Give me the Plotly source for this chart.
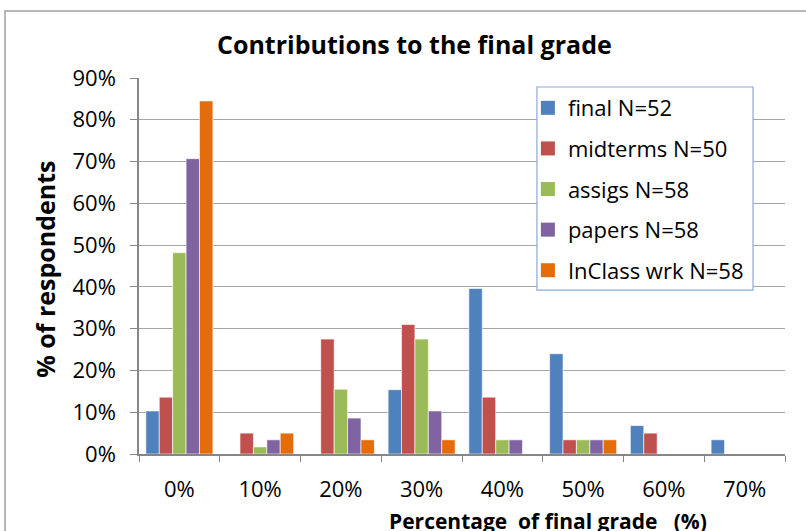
import plotly.graph_objects as go

categories = ["0%", "10%", "20%", "30%", "40%", "50%", "60%", "70%"]
series_names = ["final N=52", "midterms N=50", "assigs N=58", "papers N=58", "InClass wrk N=58"]
final_vals = [0.103, 0, 0, 0.154, 0.396, 0.240, 0.068, 0.034]
midterms_vals = [0.136, 0.050, 0.275, 0.310, 0.136, 0.034, 0.050, 0]
assigs_vals = [0.482, 0.017, 0.155, 0.275, 0.034, 0.034, 0, 0]
papers_vals = [0.707, 0.034, 0.086, 0.103, 0.034, 0.034, 0, 0]
inclass_vals = [0.845, 0.050, 0.034, 0.034, 0, 0.034, 0, 0]
colors = ["#4F81BD", "#C0504D", "#9BBB59", "#8064A2", "#E46C0A"]

FONT = "Open Sans, sans-serif"

fig = go.Figure()
for name, vals, col in zip(series_names,
                           [final_vals, midterms_vals, assigs_vals, papers_vals, inclass_vals],
                           colors):
    fig.add_trace(go.Bar(x=categories, y=vals, name=name, legendgroup=name, showlegend=False,
                         marker=dict(color=col, line=dict(color="rgba(255,255,255,0.6)", width=1))))
# legend entries with larger square swatches
for name, col in zip(series_names, colors):
    fig.add_trace(go.Scatter(x=[None], y=[None], mode="markers", name=name, legendgroup=name,
                             marker=dict(symbol="square", size=14, color=col), hoverinfo="skip"))

fig.update_layout(
    width=806, height=531,
    margin=dict(l=139, r=21, t=78, b=77),
    paper_bgcolor="white", plot_bgcolor="white",
    barmode="group", bargap=0.17, bargroupgap=0,
    font=dict(family=FONT, size=22, color="black"),
    showlegend=True,
    legend=dict(x=0.602, y=0.976, xanchor="left", yanchor="top",
                borderwidth=0, bgcolor="rgba(0,0,0,0)",
                font=dict(family=FONT, size=22), traceorder="grouped",
                tracegroupgap=9, itemwidth=30),
    xaxis=dict(type="category", showline=True, linecolor="#868686", linewidth=1.5,
               ticks="outside", tickson="boundaries", ticklen=6, tickcolor="#868686",
               tickfont=dict(family=FONT, size=22), showgrid=False, ticklabelstandoff=15),
    yaxis=dict(range=[0, 0.9], dtick=0.1, tickformat=".0%", showline=True,
               linecolor="#868686", linewidth=1.5, ticks="outside", ticklen=7,
               tickcolor="#868686", gridcolor="#A6A6A6", gridwidth=1.2,
               tickfont=dict(family=FONT, size=22), zeroline=False, ticklabelstandoff=10),
    annotations=[
        dict(text="<b>Contributions to the final grade</b>", xref="paper", yref="paper",
             x=0.427, y=1.09, xanchor="center", yanchor="middle", showarrow=False,
             font=dict(family=FONT, size=25)),
        dict(text="<b>% of respondents</b>", xref="paper", yref="paper",
             x=-0.1455, y=0.49, xanchor="center", yanchor="middle", textangle=-90,
             showarrow=False, font=dict(family=FONT, size=25)),
        dict(text="<b>Percentage\u00a0 of final grade \u00a0\u00a0(%)</b>", xref="paper", yref="paper",
             x=0.633, y=-0.177, xanchor="center", yanchor="middle", showarrow=False,
             font=dict(family=FONT, size=21)),
    ],
    shapes=[
        dict(type="rect", xref="paper", yref="paper", x0=-0.2074, x1=1.2, y0=-0.3, y1=1.178,
             line=dict(color="#A0A0A0", width=1.5), fillcolor="rgba(0,0,0,0)", layer="below"),
        dict(type="rect", xref="paper", yref="paper", x0=0.616, x1=0.9505, y0=0.436, y1=0.976,
             line=dict(color="#8EA9D8", width=1.2), fillcolor="white", layer="above"),
    ],
)

fig.write_html("out.html", config={"displayModeBar": False},
               post_script="document.body.style.margin='0px';document.body.style.overflow='hidden';")
